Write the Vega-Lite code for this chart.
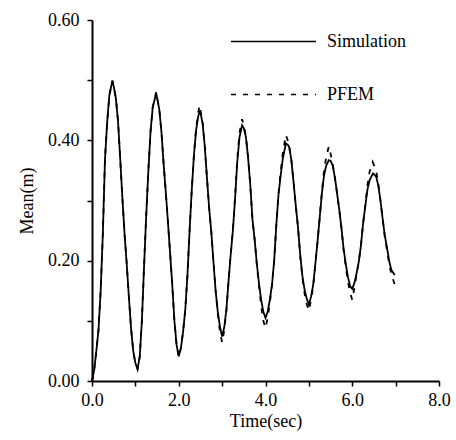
{
  "$schema": "https://vega.github.io/schema/vega-lite/v6.json",
  "width": 347,
  "height": 361,
  "autosize": "none",
  "padding": {"left": 92, "top": 20, "right": 17, "bottom": 59},
  "background": "white",
  "config": {
    "view": {"stroke": null},
    "font": "Liberation Serif",
    "axis": {
      "grid": false,
      "domainColor": "black",
      "domainWidth": 2,
      "tickColor": "black",
      "tickWidth": 1.5,
      "tickSize": 5,
      "labelColor": "black",
      "labelFont": "Liberation Serif",
      "labelFontSize": 18,
      "labelFontWeight": "normal",
      "labelFlush": false,
      "labelOverlap": false,
      "titleColor": "black",
      "titleFont": "Liberation Serif",
      "titleFontSize": 18,
      "titleFontWeight": "normal"
    }
  },
  "data": {
    "values": [
      {"t":0.00,"v":0.000,"s":"Simulation"},{"t":0.05,"v":0.018,"s":"Simulation"},{"t":0.10,"v":0.050,"s":"Simulation"},{"t":0.15,"v":0.085,"s":"Simulation"},{"t":0.20,"v":0.150,"s":"Simulation"},{"t":0.25,"v":0.245,"s":"Simulation"},{"t":0.30,"v":0.370,"s":"Simulation"},{"t":0.35,"v":0.430,"s":"Simulation"},{"t":0.40,"v":0.475,"s":"Simulation"},{"t":0.47,"v":0.499,"s":"Simulation"},{"t":0.50,"v":0.490,"s":"Simulation"},{"t":0.55,"v":0.470,"s":"Simulation"},{"t":0.60,"v":0.432,"s":"Simulation"},{"t":0.65,"v":0.370,"s":"Simulation"},{"t":0.70,"v":0.305,"s":"Simulation"},{"t":0.75,"v":0.245,"s":"Simulation"},{"t":0.80,"v":0.195,"s":"Simulation"},{"t":0.85,"v":0.140,"s":"Simulation"},{"t":0.90,"v":0.088,"s":"Simulation"},{"t":0.95,"v":0.050,"s":"Simulation"},{"t":1.00,"v":0.030,"s":"Simulation"},{"t":1.05,"v":0.020,"s":"Simulation"},{"t":1.10,"v":0.040,"s":"Simulation"},{"t":1.15,"v":0.100,"s":"Simulation"},{"t":1.20,"v":0.190,"s":"Simulation"},{"t":1.25,"v":0.275,"s":"Simulation"},{"t":1.30,"v":0.350,"s":"Simulation"},{"t":1.35,"v":0.415,"s":"Simulation"},{"t":1.40,"v":0.455,"s":"Simulation"},{"t":1.48,"v":0.478,"s":"Simulation"},{"t":1.55,"v":0.452,"s":"Simulation"},{"t":1.60,"v":0.415,"s":"Simulation"},{"t":1.65,"v":0.362,"s":"Simulation"},{"t":1.70,"v":0.315,"s":"Simulation"},{"t":1.75,"v":0.265,"s":"Simulation"},{"t":1.80,"v":0.213,"s":"Simulation"},{"t":1.85,"v":0.160,"s":"Simulation"},{"t":1.90,"v":0.100,"s":"Simulation"},{"t":1.95,"v":0.060,"s":"Simulation"},{"t":2.00,"v":0.041,"s":"Simulation"},{"t":2.05,"v":0.055,"s":"Simulation"},{"t":2.10,"v":0.082,"s":"Simulation"},{"t":2.15,"v":0.118,"s":"Simulation"},{"t":2.20,"v":0.175,"s":"Simulation"},{"t":2.25,"v":0.250,"s":"Simulation"},{"t":2.30,"v":0.318,"s":"Simulation"},{"t":2.35,"v":0.375,"s":"Simulation"},{"t":2.40,"v":0.417,"s":"Simulation"},{"t":2.45,"v":0.440,"s":"Simulation"},{"t":2.49,"v":0.450,"s":"Simulation"},{"t":2.55,"v":0.428,"s":"Simulation"},{"t":2.60,"v":0.390,"s":"Simulation"},{"t":2.65,"v":0.338,"s":"Simulation"},{"t":2.70,"v":0.288,"s":"Simulation"},{"t":2.75,"v":0.248,"s":"Simulation"},{"t":2.80,"v":0.198,"s":"Simulation"},{"t":2.85,"v":0.150,"s":"Simulation"},{"t":2.90,"v":0.115,"s":"Simulation"},{"t":2.95,"v":0.090,"s":"Simulation"},{"t":3.00,"v":0.074,"s":"Simulation"},{"t":3.05,"v":0.090,"s":"Simulation"},{"t":3.10,"v":0.120,"s":"Simulation"},{"t":3.15,"v":0.168,"s":"Simulation"},{"t":3.20,"v":0.212,"s":"Simulation"},{"t":3.25,"v":0.252,"s":"Simulation"},{"t":3.30,"v":0.305,"s":"Simulation"},{"t":3.35,"v":0.365,"s":"Simulation"},{"t":3.40,"v":0.405,"s":"Simulation"},{"t":3.46,"v":0.425,"s":"Simulation"},{"t":3.50,"v":0.420,"s":"Simulation"},{"t":3.55,"v":0.405,"s":"Simulation"},{"t":3.60,"v":0.370,"s":"Simulation"},{"t":3.65,"v":0.325,"s":"Simulation"},{"t":3.70,"v":0.268,"s":"Simulation"},{"t":3.75,"v":0.235,"s":"Simulation"},{"t":3.80,"v":0.195,"s":"Simulation"},{"t":3.85,"v":0.162,"s":"Simulation"},{"t":3.90,"v":0.135,"s":"Simulation"},{"t":3.95,"v":0.115,"s":"Simulation"},{"t":4.00,"v":0.105,"s":"Simulation"},{"t":4.05,"v":0.115,"s":"Simulation"},{"t":4.10,"v":0.135,"s":"Simulation"},{"t":4.15,"v":0.160,"s":"Simulation"},{"t":4.20,"v":0.200,"s":"Simulation"},{"t":4.25,"v":0.260,"s":"Simulation"},{"t":4.30,"v":0.310,"s":"Simulation"},{"t":4.35,"v":0.342,"s":"Simulation"},{"t":4.40,"v":0.370,"s":"Simulation"},{"t":4.47,"v":0.395,"s":"Simulation"},{"t":4.52,"v":0.392,"s":"Simulation"},{"t":4.55,"v":0.388,"s":"Simulation"},{"t":4.60,"v":0.365,"s":"Simulation"},{"t":4.65,"v":0.328,"s":"Simulation"},{"t":4.70,"v":0.290,"s":"Simulation"},{"t":4.75,"v":0.255,"s":"Simulation"},{"t":4.80,"v":0.210,"s":"Simulation"},{"t":4.85,"v":0.175,"s":"Simulation"},{"t":4.90,"v":0.152,"s":"Simulation"},{"t":4.95,"v":0.137,"s":"Simulation"},{"t":5.00,"v":0.127,"s":"Simulation"},{"t":5.05,"v":0.140,"s":"Simulation"},{"t":5.10,"v":0.160,"s":"Simulation"},{"t":5.15,"v":0.195,"s":"Simulation"},{"t":5.20,"v":0.232,"s":"Simulation"},{"t":5.25,"v":0.272,"s":"Simulation"},{"t":5.30,"v":0.312,"s":"Simulation"},{"t":5.35,"v":0.342,"s":"Simulation"},{"t":5.40,"v":0.358,"s":"Simulation"},{"t":5.46,"v":0.367,"s":"Simulation"},{"t":5.50,"v":0.366,"s":"Simulation"},{"t":5.55,"v":0.358,"s":"Simulation"},{"t":5.60,"v":0.338,"s":"Simulation"},{"t":5.65,"v":0.312,"s":"Simulation"},{"t":5.70,"v":0.285,"s":"Simulation"},{"t":5.75,"v":0.255,"s":"Simulation"},{"t":5.80,"v":0.220,"s":"Simulation"},{"t":5.85,"v":0.195,"s":"Simulation"},{"t":5.90,"v":0.173,"s":"Simulation"},{"t":5.95,"v":0.158,"s":"Simulation"},{"t":6.00,"v":0.153,"s":"Simulation"},{"t":6.05,"v":0.163,"s":"Simulation"},{"t":6.10,"v":0.179,"s":"Simulation"},{"t":6.15,"v":0.198,"s":"Simulation"},{"t":6.20,"v":0.225,"s":"Simulation"},{"t":6.25,"v":0.262,"s":"Simulation"},{"t":6.30,"v":0.290,"s":"Simulation"},{"t":6.35,"v":0.318,"s":"Simulation"},{"t":6.40,"v":0.334,"s":"Simulation"},{"t":6.48,"v":0.345,"s":"Simulation"},{"t":6.55,"v":0.340,"s":"Simulation"},{"t":6.60,"v":0.325,"s":"Simulation"},{"t":6.65,"v":0.300,"s":"Simulation"},{"t":6.70,"v":0.270,"s":"Simulation"},{"t":6.75,"v":0.242,"s":"Simulation"},{"t":6.80,"v":0.222,"s":"Simulation"},{"t":6.85,"v":0.200,"s":"Simulation"},{"t":6.90,"v":0.185,"s":"Simulation"},{"t":6.98,"v":0.176,"s":"Simulation"},
      {"t":0.00,"v":0.000,"s":"PFEM"},{"t":0.05,"v":0.018,"s":"PFEM"},{"t":0.10,"v":0.050,"s":"PFEM"},{"t":0.15,"v":0.085,"s":"PFEM"},{"t":0.20,"v":0.150,"s":"PFEM"},{"t":0.25,"v":0.245,"s":"PFEM"},{"t":0.30,"v":0.370,"s":"PFEM"},{"t":0.35,"v":0.430,"s":"PFEM"},{"t":0.40,"v":0.475,"s":"PFEM"},{"t":0.47,"v":0.499,"s":"PFEM"},{"t":0.50,"v":0.490,"s":"PFEM"},{"t":0.55,"v":0.470,"s":"PFEM"},{"t":0.60,"v":0.432,"s":"PFEM"},{"t":0.65,"v":0.370,"s":"PFEM"},{"t":0.70,"v":0.305,"s":"PFEM"},{"t":0.75,"v":0.245,"s":"PFEM"},{"t":0.80,"v":0.195,"s":"PFEM"},{"t":0.85,"v":0.140,"s":"PFEM"},{"t":0.90,"v":0.088,"s":"PFEM"},{"t":0.95,"v":0.050,"s":"PFEM"},{"t":1.00,"v":0.030,"s":"PFEM"},{"t":1.05,"v":0.020,"s":"PFEM"},{"t":1.10,"v":0.040,"s":"PFEM"},{"t":1.15,"v":0.100,"s":"PFEM"},{"t":1.20,"v":0.190,"s":"PFEM"},{"t":1.25,"v":0.275,"s":"PFEM"},{"t":1.30,"v":0.350,"s":"PFEM"},{"t":1.35,"v":0.415,"s":"PFEM"},{"t":1.40,"v":0.455,"s":"PFEM"},{"t":1.48,"v":0.480,"s":"PFEM"},{"t":1.55,"v":0.452,"s":"PFEM"},{"t":1.60,"v":0.415,"s":"PFEM"},{"t":1.65,"v":0.362,"s":"PFEM"},{"t":1.70,"v":0.315,"s":"PFEM"},{"t":1.75,"v":0.265,"s":"PFEM"},{"t":1.80,"v":0.213,"s":"PFEM"},{"t":1.85,"v":0.160,"s":"PFEM"},{"t":1.90,"v":0.100,"s":"PFEM"},{"t":1.95,"v":0.060,"s":"PFEM"},{"t":2.00,"v":0.040,"s":"PFEM"},{"t":2.05,"v":0.055,"s":"PFEM"},{"t":2.10,"v":0.082,"s":"PFEM"},{"t":2.15,"v":0.118,"s":"PFEM"},{"t":2.20,"v":0.175,"s":"PFEM"},{"t":2.25,"v":0.250,"s":"PFEM"},{"t":2.30,"v":0.318,"s":"PFEM"},{"t":2.35,"v":0.375,"s":"PFEM"},{"t":2.40,"v":0.420,"s":"PFEM"},{"t":2.45,"v":0.447,"s":"PFEM"},{"t":2.48,"v":0.458,"s":"PFEM"},{"t":2.55,"v":0.430,"s":"PFEM"},{"t":2.60,"v":0.390,"s":"PFEM"},{"t":2.65,"v":0.338,"s":"PFEM"},{"t":2.70,"v":0.288,"s":"PFEM"},{"t":2.75,"v":0.248,"s":"PFEM"},{"t":2.80,"v":0.198,"s":"PFEM"},{"t":2.85,"v":0.150,"s":"PFEM"},{"t":2.90,"v":0.112,"s":"PFEM"},{"t":2.95,"v":0.082,"s":"PFEM"},{"t":3.00,"v":0.064,"s":"PFEM"},{"t":3.05,"v":0.085,"s":"PFEM"},{"t":3.10,"v":0.118,"s":"PFEM"},{"t":3.15,"v":0.168,"s":"PFEM"},{"t":3.20,"v":0.212,"s":"PFEM"},{"t":3.25,"v":0.252,"s":"PFEM"},{"t":3.30,"v":0.308,"s":"PFEM"},{"t":3.35,"v":0.370,"s":"PFEM"},{"t":3.40,"v":0.412,"s":"PFEM"},{"t":3.46,"v":0.435,"s":"PFEM"},{"t":3.50,"v":0.426,"s":"PFEM"},{"t":3.55,"v":0.405,"s":"PFEM"},{"t":3.60,"v":0.370,"s":"PFEM"},{"t":3.65,"v":0.325,"s":"PFEM"},{"t":3.70,"v":0.268,"s":"PFEM"},{"t":3.75,"v":0.235,"s":"PFEM"},{"t":3.80,"v":0.193,"s":"PFEM"},{"t":3.85,"v":0.158,"s":"PFEM"},{"t":3.90,"v":0.125,"s":"PFEM"},{"t":3.95,"v":0.100,"s":"PFEM"},{"t":4.00,"v":0.088,"s":"PFEM"},{"t":4.05,"v":0.105,"s":"PFEM"},{"t":4.10,"v":0.130,"s":"PFEM"},{"t":4.15,"v":0.160,"s":"PFEM"},{"t":4.20,"v":0.200,"s":"PFEM"},{"t":4.25,"v":0.260,"s":"PFEM"},{"t":4.30,"v":0.312,"s":"PFEM"},{"t":4.35,"v":0.348,"s":"PFEM"},{"t":4.40,"v":0.380,"s":"PFEM"},{"t":4.47,"v":0.409,"s":"PFEM"},{"t":4.52,"v":0.398,"s":"PFEM"},{"t":4.55,"v":0.388,"s":"PFEM"},{"t":4.60,"v":0.365,"s":"PFEM"},{"t":4.65,"v":0.328,"s":"PFEM"},{"t":4.70,"v":0.290,"s":"PFEM"},{"t":4.75,"v":0.255,"s":"PFEM"},{"t":4.80,"v":0.208,"s":"PFEM"},{"t":4.85,"v":0.172,"s":"PFEM"},{"t":4.90,"v":0.146,"s":"PFEM"},{"t":4.95,"v":0.128,"s":"PFEM"},{"t":5.00,"v":0.117,"s":"PFEM"},{"t":5.05,"v":0.135,"s":"PFEM"},{"t":5.10,"v":0.158,"s":"PFEM"},{"t":5.15,"v":0.195,"s":"PFEM"},{"t":5.20,"v":0.232,"s":"PFEM"},{"t":5.25,"v":0.272,"s":"PFEM"},{"t":5.30,"v":0.315,"s":"PFEM"},{"t":5.35,"v":0.350,"s":"PFEM"},{"t":5.40,"v":0.372,"s":"PFEM"},{"t":5.46,"v":0.390,"s":"PFEM"},{"t":5.50,"v":0.378,"s":"PFEM"},{"t":5.55,"v":0.360,"s":"PFEM"},{"t":5.60,"v":0.338,"s":"PFEM"},{"t":5.65,"v":0.312,"s":"PFEM"},{"t":5.70,"v":0.285,"s":"PFEM"},{"t":5.75,"v":0.255,"s":"PFEM"},{"t":5.80,"v":0.218,"s":"PFEM"},{"t":5.85,"v":0.190,"s":"PFEM"},{"t":5.90,"v":0.165,"s":"PFEM"},{"t":5.95,"v":0.147,"s":"PFEM"},{"t":6.00,"v":0.135,"s":"PFEM"},{"t":6.05,"v":0.155,"s":"PFEM"},{"t":6.10,"v":0.177,"s":"PFEM"},{"t":6.15,"v":0.198,"s":"PFEM"},{"t":6.20,"v":0.225,"s":"PFEM"},{"t":6.25,"v":0.262,"s":"PFEM"},{"t":6.30,"v":0.292,"s":"PFEM"},{"t":6.35,"v":0.325,"s":"PFEM"},{"t":6.40,"v":0.348,"s":"PFEM"},{"t":6.47,"v":0.364,"s":"PFEM"},{"t":6.55,"v":0.350,"s":"PFEM"},{"t":6.60,"v":0.328,"s":"PFEM"},{"t":6.65,"v":0.300,"s":"PFEM"},{"t":6.70,"v":0.270,"s":"PFEM"},{"t":6.75,"v":0.240,"s":"PFEM"},{"t":6.80,"v":0.218,"s":"PFEM"},{"t":6.85,"v":0.195,"s":"PFEM"},{"t":6.90,"v":0.178,"s":"PFEM"},{"t":6.98,"v":0.160,"s":"PFEM"}
    ]
  },
  "mark": {"type": "line", "color": "black", "strokeWidth": 1.8},
  "encoding": {
    "x": {
      "field": "t",
      "type": "quantitative",
      "scale": {"domain": [0, 8], "nice": false, "zero": false},
      "axis": {
        "title": "Time(sec)",
        "values": [0, 1, 2, 3, 4, 5, 6, 7, 8],
        "labelExpr": "datum.value % 2 == 0 ? format(datum.value, '.1f') : ''",
        "labelPadding": 5,
        "titlePadding": 3
      }
    },
    "y": {
      "field": "v",
      "type": "quantitative",
      "scale": {"domain": [0, 0.6], "nice": false},
      "axis": {
        "title": "Mean(m)",
        "values": [0, 0.1, 0.2, 0.3, 0.4, 0.5, 0.6],
        "labelExpr": "round(datum.value * 10) % 2 == 0 ? format(datum.value, '.2f') : ''",
        "labelPadding": 8,
        "titlePadding": 11
      }
    },
    "strokeDash": {
      "field": "s",
      "type": "nominal",
      "scale": {"domain": ["Simulation", "PFEM"], "range": [[1, 0], [5, 7]]},
      "legend": {
        "title": null,
        "orient": "none",
        "legendX": 138,
        "legendY": -22,
        "symbolType": "stroke",
        "symbolSize": 7225,
        "symbolStrokeWidth": 1.5,
        "symbolStrokeColor": "black",
        "labelFont": "Liberation Serif",
        "labelFontSize": 18,
        "labelColor": "black",
        "labelOffset": 10,
        "rowPadding": -52,
        "padding": 0
      }
    },
    "order": {"field": "t", "type": "quantitative"}
  }
}
